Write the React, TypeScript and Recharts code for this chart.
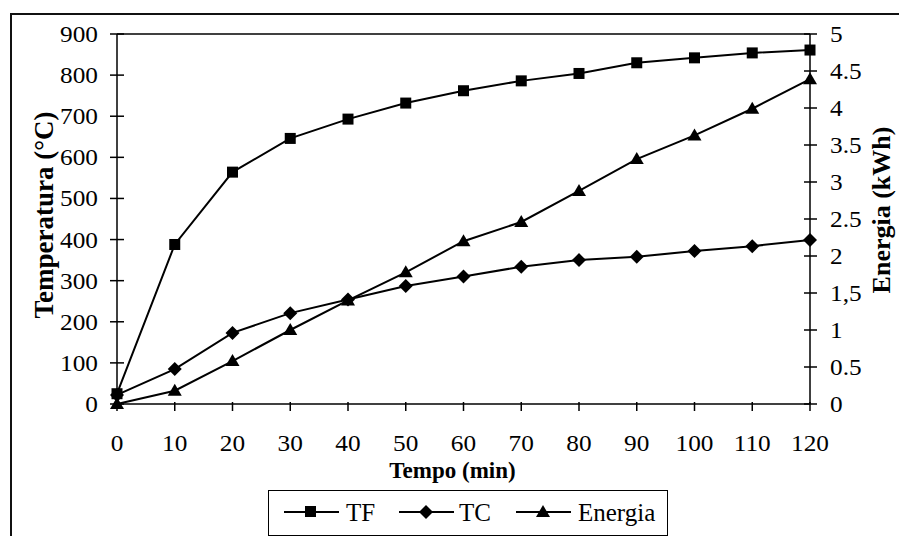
import React from 'react';
import { LineChart, Line, XAxis, YAxis, Legend, ReferenceLine } from 'recharts';

const tempo = [0, 10, 20, 30, 40, 50, 60, 70, 80, 90, 100, 110, 120];
const tf = [25, 388, 564, 646, 693, 732, 762, 786, 804, 830, 842, 854, 861];
const tc = [22, 85, 173, 221, 254, 287, 310, 334, 350, 358, 372, 384, 399];
const energia = [0, 0.18, 0.58, 1.0, 1.4, 1.78, 2.2, 2.46, 2.88, 3.31, 3.63, 3.99, 4.39];

const leftTicks = [0, 100, 200, 300, 400, 500, 600, 700, 800, 900];
const rightTicks = [0, 0.5, 1, 1.5, 2, 2.5, 3, 3.5, 4, 4.5, 5];
const rightTickLabels = ['0', '0.5', '1', '1,5', '2', '2.5', '3', '3.5', '4', '4.5', '5'];
const xTicks = [0, 10, 20, 30, 40, 50, 60, 70, 80, 90, 100, 110, 120];

const data = tempo.map((t, i) => ({ t, TF: tf[i], TC: tc[i], Energia: energia[i] }));

const FONT = "'Liberation Serif', 'Times New Roman', Times, serif";
const TICK_FS = 23;
const txt = (extra: any = {}) => ({ fontFamily: FONT, fill: '#000', ...extra });

const LeftTick = (props: any) => {
  const { x, y, payload } = props;
  return (
    <g>
      <line x1={x - 7} x2={x + 7} y1={y} y2={y} stroke="#000" strokeWidth={1.5} />
      <text
        transform={`translate(${x - 19},${y + 8}) scale(1.1,1)`}
        textAnchor="end"
        style={txt({ fontSize: TICK_FS })}
      >
        {payload.value}
      </text>
    </g>
  );
};

const RightTick = (props: any) => {
  const { x, y, payload } = props;
  const idx = rightTicks.indexOf(payload.value);
  const label = idx >= 0 ? rightTickLabels[idx] : String(payload.value);
  return (
    <g>
      <line x1={x - 6} x2={x + 7} y1={y} y2={y} stroke="#000" strokeWidth={1.5} />
      <text
        transform={`translate(${x + 20},${y + 8}) scale(1.1,1)`}
        textAnchor="start"
        style={txt({ fontSize: TICK_FS })}
      >
        {label}
      </text>
    </g>
  );
};

const BottomTick = (props: any) => {
  const { x, y, payload } = props;
  return (
    <g>
      <line x1={x} x2={x} y1={y - 2} y2={y + 7} stroke="#000" strokeWidth={1.5} />
      <text
        transform={`translate(${x},${y + 47}) scale(1.1,1)`}
        textAnchor="middle"
        style={txt({ fontSize: TICK_FS })}
      >
        {payload.value}
      </text>
    </g>
  );
};

const SquareDot = (props: any) => {
  const { cx, cy, index } = props;
  if (cx == null || cy == null) return <g key={`s${index}`} />;
  return <rect key={`s${index}`} x={cx - 5.5} y={cy - 5.5} width={11} height={11} fill="#000" />;
};

const DiamondDot = (props: any) => {
  const { cx, cy, index } = props;
  if (cx == null || cy == null) return <g key={`d${index}`} />;
  return (
    <polygon
      key={`d${index}`}
      points={`${cx},${cy - 7} ${cx + 7},${cy} ${cx},${cy + 7} ${cx - 7},${cy}`}
      fill="#000"
    />
  );
};

const TriangleDot = (props: any) => {
  const { cx, cy, index } = props;
  if (cx == null || cy == null) return <g key={`t${index}`} />;
  return (
    <polygon
      key={`t${index}`}
      points={`${cx},${cy - 7} ${cx + 7},${cy + 5} ${cx - 7},${cy + 5}`}
      fill="#000"
    />
  );
};

const LegendBox = () => (
  <div
    style={{
      marginLeft: 268,
      width: 400,
      height: 46,
      boxSizing: 'border-box',
      border: '1.5px solid #000',
      background: '#fff',
    }}
  >
    <svg width={397} height={43} style={{ display: 'block' }}>
      <line x1={15} x2={70} y1={21} y2={21} stroke="#000" strokeWidth={2} />
      <rect x={36} y={15} width={11} height={11} fill="#000" />
      <text x={77} y={30} style={txt({ fontSize: 25 })}>TF</text>
      <line x1={130} x2={185} y1={21} y2={21} stroke="#000" strokeWidth={2} />
      <polygon points="157,14 164,21 157,28 150,21" fill="#000" />
      <text x={190} y={30} style={txt({ fontSize: 25 })}>TC</text>
      <line x1={247} x2={302} y1={21} y2={21} stroke="#000" strokeWidth={2} />
      <polygon points="274,14 281,26 267,26" fill="#000" />
      <text x={309} y={30} style={txt({ fontSize: 25 })}>Energia</text>
    </svg>
  </div>
);

export default function App() {
  return (
    <div style={{ position: 'fixed', left: 0, top: 0, width: 899, height: 536, background: '#fff', overflow: 'hidden', fontFamily: FONT }}>
      <div
        style={{
          position: 'absolute',
          left: 10,
          top: 13,
          width: 889,
          height: 523,
          borderTop: '2px solid #111',
          borderLeft: '2px solid #111',
          boxSizing: 'border-box',
        }}
      />
      <div style={{ position: 'absolute', left: 0, top: 0 }}>
        <LineChart width={899} height={536} data={data} margin={{ top: 34, right: 0, left: 0, bottom: 0 }}>
          <XAxis
            dataKey="t"
            type="number"
            domain={[0, 120]}
            ticks={xTicks}
            height={86}
            axisLine={{ stroke: '#000', strokeWidth: 1.5 }}
            tickLine={false}
            tickSize={0}
            tickMargin={0}
            tick={<BottomTick />}
            interval={0}
            label={{
              content: (p: any) => {
                const vb = p.viewBox || { x: 117, y: 404, width: 693 };
                return (
                  <text
                    x={vb.x + vb.width / 2 - 11}
                    y={vb.y + 74}
                    textAnchor="middle"
                    style={txt({ fontSize: 23, fontWeight: 'bold' })}
                  >
                    Tempo (min)
                  </text>
                );
              },
            }}
          />
          <YAxis
            yAxisId="left"
            orientation="left"
            width={117}
            domain={[0, 900]}
            ticks={leftTicks}
            interval={0}
            axisLine={{ stroke: '#000', strokeWidth: 1.5 }}
            tickLine={false}
            tickSize={0}
            tickMargin={0}
            tick={<LeftTick />}
            label={{
              content: (p: any) => {
                const vb = p.viewBox || { x: 0, y: 34, height: 370 };
                const cx = vb.x + 53;
                const cy = vb.y + vb.height / 2 - 4;
                return (
                  <text
                    x={cx}
                    y={cy}
                    transform={`rotate(-90, ${cx}, ${cy})`}
                    textAnchor="middle"
                    style={txt({ fontSize: 27, fontWeight: 'bold' })}
                  >
                    Temperatura (°C)
                  </text>
                );
              },
            }}
          />
          <YAxis
            yAxisId="right"
            orientation="right"
            width={89}
            domain={[0, 5]}
            ticks={rightTicks}
            interval={0}
            axisLine={{ stroke: '#000', strokeWidth: 1.5 }}
            tickLine={false}
            tickSize={0}
            tickMargin={0}
            tick={<RightTick />}
            label={{
              content: (p: any) => {
                const vb = p.viewBox || { x: 810, y: 34, height: 370 };
                const cx = vb.x + 80;
                const cy = vb.y + vb.height / 2 - 9;
                return (
                  <text
                    x={cx}
                    y={cy}
                    transform={`rotate(-90, ${cx}, ${cy})`}
                    textAnchor="middle"
                    style={txt({ fontSize: 26, fontWeight: 'bold' })}
                  >
                    Energia (kWh)
                  </text>
                );
              },
            }}
          />
          <ReferenceLine yAxisId="left" y={900} stroke="#000" strokeWidth={1.5} />
          <Legend verticalAlign="bottom" align="left" content={() => <LegendBox />} />
          <Line
            yAxisId="left"
            dataKey="TF"
            stroke="#000"
            strokeWidth={2}
            dot={(p: any) => <SquareDot {...p} key={`sq${p.index}`} />}
            activeDot={false}
            isAnimationActive={false}
          />
          <Line
            yAxisId="left"
            dataKey="TC"
            stroke="#000"
            strokeWidth={2}
            dot={(p: any) => <DiamondDot {...p} key={`di${p.index}`} />}
            activeDot={false}
            isAnimationActive={false}
          />
          <Line
            yAxisId="right"
            dataKey="Energia"
            stroke="#000"
            strokeWidth={2}
            dot={(p: any) => <TriangleDot {...p} key={`tr${p.index}`} />}
            activeDot={false}
            isAnimationActive={false}
          />
        </LineChart>
      </div>
    </div>
  );
}
